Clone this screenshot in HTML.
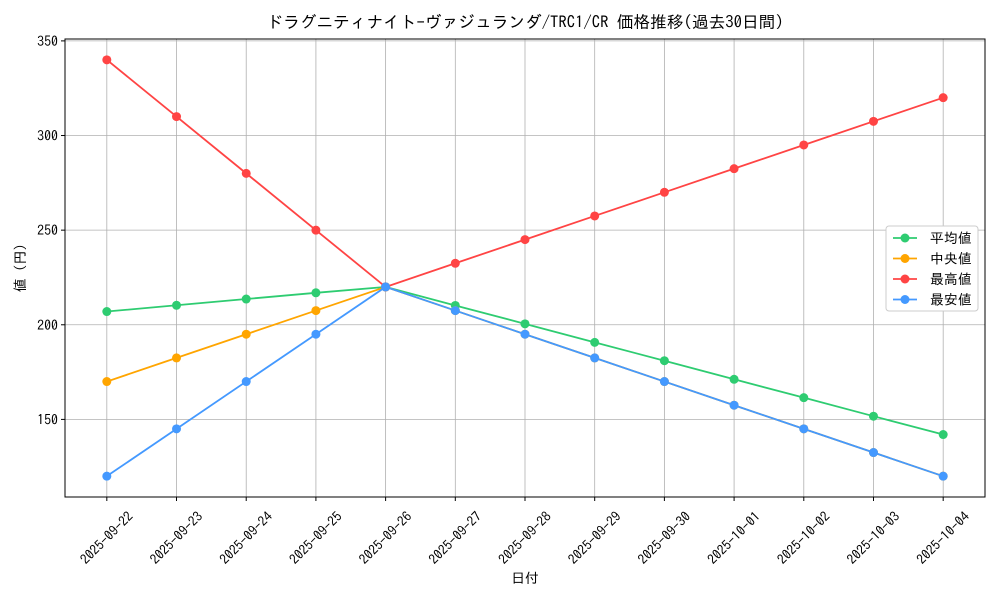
<!DOCTYPE html>
<html><head><meta charset="utf-8"><style>
body{margin:0;background:#fff;}
svg text{font-family:"IPAGothic","Liberation Mono","Noto Sans CJK JP",monospace;fill:#000;}
</style></head><body>
<svg id="chart" width="1000" height="600">
<text x="525" y="28" text-anchor="middle" font-size="16.7">ドラグニティナイト-ヴァジュランダ/TRC1/CR 価格推移(過去30日間)</text>
<g id="grid"></g><g id="axes"></g><g id="series"></g>
<text x="525" y="583" text-anchor="middle" font-size="13.9">日付</text>
<text transform="translate(25,268) rotate(-90)" text-anchor="middle" font-size="13.9">値 (円)</text>
<g id="legend"></g>
</svg>
<script>
const dates=["2025-09-22","2025-09-23","2025-09-24","2025-09-25","2025-09-26","2025-09-27","2025-09-28","2025-09-29","2025-09-30","2025-10-01","2025-10-02","2025-10-03","2025-10-04"];
const avgValues=[207,210.3,213.6,216.9,220,210.2,200.5,190.7,181,171.2,161.5,151.7,142];
const medianValues=[170,182.5,195,207.5,220,207.5,195,182.5,170,157.5,145,132.5,120];
const maxValues=[340,310,280,250,220,232.5,245,257.5,270,282.5,295,307.5,320];
const minValues=[120,145,170,195,220,207.5,195,182.5,170,157.5,145,132.5,120];
const yTicks=[150,200,250,300,350];
const seriesNames=["平均値","中央値","最高値","最安値"];
const L=65,R=985,T=39,B=497,yMin=109,yMax=351;
const NS="http://www.w3.org/2000/svg";
const xs=i=>L+(i+0.6)*(R-L)/(dates.length-1+1.2);
const ys=v=>B-(v-yMin)/(yMax-yMin)*(B-T);
function mk(tag,attrs,parent){const e=document.createElementNS(NS,tag);for(const k in attrs)e.setAttribute(k,attrs[k]);document.getElementById(parent).appendChild(e);return e;}
dates.forEach((d,i)=>{
 const g=mk('line',{x1:xs(i),x2:xs(i),y1:T,y2:B,stroke:'#b0b0b0','stroke-width':0.8},'grid');
 
 
 mk('line',{x1:xs(i),x2:xs(i),y1:B,y2:B+4,stroke:'#000'},'axes');
 const cx=xs(i), cy=B+41;
 const t=mk('text',{x:cx,y:cy+4.5,'font-size':13.5,'text-anchor':'middle',transform:`rotate(-45 ${cx} ${cy})`},'axes');
 t.textContent=d;
 
 
});
yTicks.forEach(v=>{
 const g=mk('line',{x1:L,x2:R,y1:ys(v),y2:ys(v),stroke:'#b0b0b0','stroke-width':0.8},'grid');
 
 
 mk('line',{x1:L-4,x2:L,y1:ys(v),y2:ys(v),stroke:'#000'},'axes');
 const t=mk('text',{x:L-7,y:ys(v)+5,'font-size':13.9,'text-anchor':'end'},'axes');
 t.textContent=v;
 
 
});
const frame=mk('rect',{x:L,y:T,width:R-L,height:B-T,fill:'none',stroke:'#000','stroke-width':1},'axes');


const colors=['#2ecc71','#ffa500','#ff4444','#4499ff'];
const all=[avgValues,medianValues,maxValues,minValues];
const snames=['series-average','series-median','series-max','series-min'];
all.forEach((vals,s)=>{
 const p=mk('polyline',{points:vals.map((v,i)=>xs(i)+','+ys(v)).join(' '),fill:'none',stroke:colors[s],'stroke-width':1.8},'series');
 
 
 vals.forEach((v,i)=>{
  const c=mk('circle',{cx:xs(i),cy:ys(v),r:4.5,fill:colors[s]},'series');
  
  
 });
});
const lb=mk('rect',{x:886,y:226,width:92,height:85,fill:'#fff',stroke:'#ccc',rx:3},'legend');


seriesNames.forEach((n,s)=>{
 const y=238+s*20.5;
 const l=mk('line',{x1:893,x2:917,y1:y,y2:y,stroke:colors[s],'stroke-width':1.8},'legend');
 
 
 mk('circle',{cx:905,cy:y,r:4.5,fill:colors[s]},'legend');
 const t=mk('text',{x:930,y:y+5,'font-size':13.9},'legend');
 t.textContent=n;
 
 
});
</script>
</body></html>
